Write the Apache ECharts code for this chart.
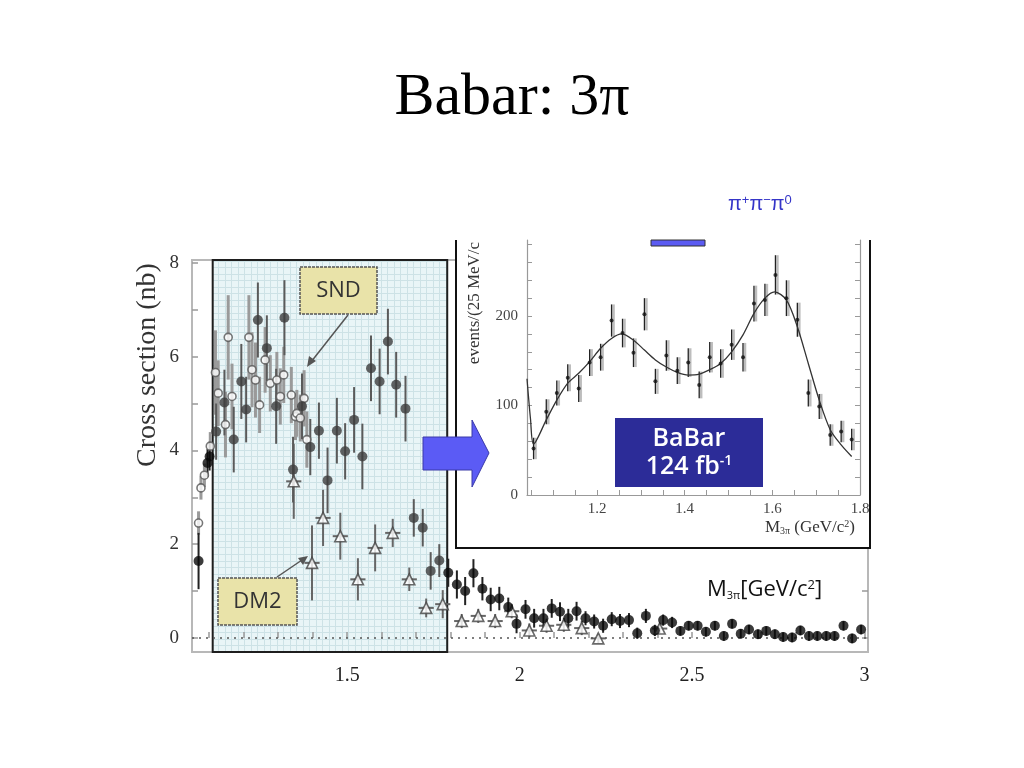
<!DOCTYPE html>
<html><head><meta charset="utf-8">
<script src="https://cdn.jsdelivr.net/npm/echarts@6/dist/echarts.min.js"></script>
<style>html,body{margin:0;padding:0;background:#fff}#c{width:1024px;height:768px}</style>
</head><body><div id="c"></div>
<script>
// ---------- main plot data (cross section, nb vs M3pi GeV) ----------
const sndX   = [1.069,1.076,1.086,1.103,1.118,1.126,1.147,1.155,1.166,1.215,1.224,1.234,1.246,1.262,1.277,1.296,1.306,1.316,1.338,1.350,1.354,1.364,1.375,1.383];
const sndY   = [2.45,3.20,3.47,4.09,5.66,5.22,4.55,6.41,5.15,6.41,5.72,5.50,4.97,5.93,5.43,5.50,5.15,5.61,5.18,4.72,4.79,4.69,5.11,4.23];
const sndErr = [0.25,0.25,0.25,0.3,0.9,0.7,0.7,0.9,0.7,0.9,0.8,0.8,0.6,0.7,0.6,0.6,0.6,0.6,0.6,0.5,0.5,0.5,0.6,0.6];

const babarX = [1.069,1.095,1.101,1.120,1.144,1.171,1.193,1.207,1.241,1.267,1.294,1.318,1.343,1.369,1.393,1.418,1.443,1.470,1.494,1.520,1.544,1.569,1.594,1.618,1.642,1.669,1.693,1.719,1.742,1.767,1.793,1.818,1.842,1.866,1.892,1.916,1.941,1.967,1.991,2.017,2.042,2.069,2.093,2.117,2.141,2.165,2.191,2.216,2.242,2.267,2.291,2.317,2.341,2.366,2.392,2.416,2.442,2.466,2.490,2.516,2.540,2.566,2.592,2.616,2.641,2.665,2.691,2.715,2.740,2.764,2.790,2.814,2.839,2.863,2.889,2.913,2.939,2.964,2.990];
const babarY = [1.64,3.73,3.87,4.40,5.02,4.23,5.47,4.87,6.78,6.18,4.94,6.83,3.59,4.94,4.07,4.42,3.36,4.42,3.98,4.65,3.87,5.75,5.47,6.32,5.40,4.89,2.56,2.35,1.43,1.65,1.39,1.14,1.00,1.38,1.05,0.82,0.84,0.66,0.30,0.61,0.42,0.42,0.63,0.56,0.42,0.57,0.42,0.35,0.26,0.40,0.36,0.38,0.10,0.47,0.16,0.38,0.33,0.15,0.26,0.26,0.13,0.26,0.04,0.30,0.09,0.18,0.08,0.15,0.08,0.02,0.01,0.16,0.04,0.04,0.04,0.04,0.26,-0.01,0.18];
const babarErr = [0.6,0.3,0.3,0.6,0.7,0.7,0.8,0.7,0.8,0.7,0.8,0.8,0.7,0.7,0.6,0.6,0.7,0.7,0.6,0.7,0.7,0.7,0.7,0.7,0.7,0.7,0.4,0.4,0.4,0.35,0.3,0.3,0.3,0.3,0.25,0.25,0.25,0.2,0.2,0.2,0.2,0.2,0.2,0.2,0.2,0.2,0.15,0.15,0.15,0.15,0.15,0.15,0.12,0.15,0.12,0.12,0.12,0.1,0.1,0.1,0.1,0.1,0.1,0.1,0.1,0.1,0.1,0.1,0.1,0.1,0.1,0.1,0.1,0.1,0.1,0.1,0.1,0.1,0.1];

const dm2X   = [1.345,1.398,1.430,1.480,1.531,1.581,1.632,1.680,1.729,1.777,1.832,1.880,1.929,1.977,2.028,2.078,2.128,2.180,2.228,2.406];
const dm2Y   = [3.34,1.60,2.56,2.17,1.25,1.92,2.24,1.25,0.64,0.72,0.36,0.47,0.36,0.57,0.16,0.26,0.28,0.21,-0.01,0.20];
const dm2Err = [0.8,0.8,0.6,0.5,0.45,0.5,0.3,0.25,0.2,0.3,0.15,0.15,0.15,0.15,0.15,0.15,0.15,0.15,0.1,0.1];

const xTicks = [1.1,1.2,1.3,1.4,1.5,1.6,1.7,1.8,1.9,2.0,2.1,2.2,2.3,2.4,2.5,2.6,2.7,2.8,2.9,3.0];
const xLabels = [1.5,2,2.5,3];
const yTicks = [0,1,2,3,4,5,6,7,8];
const yLabels = [0,2,4,6,8];
const boxRange = [1.11, 1.79];

// ---------- inset data (events / 25 MeV) ----------
const insetX = [1.055,1.084,1.108,1.133,1.158,1.183,1.208,1.233,1.258,1.283,1.308,1.333,1.358,1.383,1.408,1.433,1.457,1.482,1.507,1.533,1.558,1.583,1.607,1.632,1.657,1.682,1.707,1.732,1.757,1.781];
const insetY = [52,93,114,131,119,148,154,195,181,159,202,127,156,139,148,123,154,147,168,154,214,218,246,220,196,114,99,67,71,62];
const insetErr = [12,14,14,15,15,15,15,18,16,16,18,14,17,15,16,15,17,16,17,16,20,18,22,20,19,15,14,12,12,12];
const curveX = [1.040,1.048,1.055,1.084,1.108,1.133,1.158,1.183,1.208,1.233,1.256,1.283,1.308,1.333,1.358,1.383,1.408,1.433,1.457,1.482,1.507,1.533,1.558,1.583,1.605,1.632,1.657,1.682,1.707,1.732,1.757,1.781];
const curveY = [130,85,57,84,106,125,136,149,164,175,180,173,162,151,143,137,134,135,140,147,160,179,203,220,227,218,188,147,106,73,56,43];
const insetXTicks = [1.05,1.1,1.15,1.2,1.25,1.3,1.35,1.4,1.45,1.5,1.55,1.6,1.65,1.7,1.75,1.8];
const insetXLabels = [1.2,1.4,1.6,1.8];
const insetYTicks = [0,20,40,60,80,100,120,140,160,180,200,220,240,260,280];
const insetYLabels = [0,100,200];

// ---------- helpers ----------
function errSeries(xs, ys, es, xi, yi, opts) {
  return {
    type: 'custom', xAxisIndex: xi, yAxisIndex: yi, z: opts.z || 2, silent: true,
    data: xs.map((x, i) => [x, ys[i], es[i]]),
    renderItem(params, api) {
      const x = api.value(0), y = api.value(1), e = api.value(2);
      const a = api.coord([x, y - e]), b = api.coord([x, y + e]);
      const col = typeof opts.color === 'function' ? opts.color(x) : opts.color;
      const dx = opts.dx || 0;
      const ch = [{ type: 'line', shape: { x1: a[0] + dx, y1: a[1], x2: b[0] + dx, y2: b[1] }, style: { stroke: col, lineWidth: opts.width } }];
      if (opts.hx) {
        const c = api.coord([x - opts.hx, y]), d = api.coord([x + opts.hx, y]);
        ch.push({ type: 'line', shape: { x1: c[0], y1: c[1], x2: d[0], y2: d[1] }, style: { stroke: col, lineWidth: opts.width } });
      }
      return { type: 'group', children: ch };
    }
  };
}
const inBox = x => x >= boxRange[0] && x <= boxRange[1];
const serif = 'Liberation Serif';
const sans = 'Open Sans';

const chart = echarts.init(document.getElementById('c'));
const option = {
  animation: false,
  backgroundColor: '#fff',
  grid: [
    { left: 192, right: 156, top: 260, bottom: 116, show: true, borderColor: '#b8b8b8', borderWidth: 2, backgroundColor: 'transparent' },
    { left: 527, right: 164, top: 240, bottom: 273, z: 10 },
    { left: 212, right: 578, top: 261, bottom: 116, show: true, backgroundColor: '#e9f5f7', borderWidth: 0 }
  ],
  xAxis: [
    { gridIndex: 0, type: 'value', min: 1.05, max: 3.01, splitLine: { show: false },
      axisLine: { show: false },
      axisTick: { show: true, inside: true, length: 6, customValues: xTicks, lineStyle: { color: '#999', width: 1.5 } },
      axisLabel: { customValues: xLabels, margin: 14, fontFamily: serif, fontSize: 20, color: '#222' } },
    { gridIndex: 1, type: 'value', min: 1.04, max: 1.8, z: 10, splitLine: { show: false },
      axisLine: { show: true, lineStyle: { color: '#999', width: 1.2 } },
      axisTick: { show: true, inside: true, length: 5, customValues: insetXTicks, lineStyle: { color: '#999' } },
      axisLabel: { customValues: insetXLabels, margin: 7, fontFamily: serif, fontSize: 15, color: '#444' } },
    { gridIndex: 2, type: 'value', min: 0, max: 36, interval: 1, axisLine: { show: false }, axisTick: { show: false }, axisLabel: { show: false },
      splitLine: { show: true, lineStyle: { color: '#cde2e6', width: 1 } } }
  ],
  yAxis: [
    { gridIndex: 0, type: 'value', min: -0.3, max: 8.06, splitLine: { show: false }, axisLine: { show: false },
      axisTick: { show: true, inside: true, length: 6, customValues: yTicks, lineStyle: { color: '#999', width: 1.5 } },
      axisLabel: { customValues: yLabels, margin: 13, fontFamily: serif, fontSize: 19, color: '#333' } },
    { gridIndex: 0, type: 'value', position: 'right', min: -0.3, max: 8.06, splitLine: { show: false }, axisLine: { show: false },
      axisTick: { show: true, inside: true, length: 6, customValues: yTicks, lineStyle: { color: '#999', width: 1.5 } },
      axisLabel: { show: false } },
    { gridIndex: 1, type: 'value', min: 0, max: 285, z: 10, splitLine: { show: false },
      axisLine: { show: true, lineStyle: { color: '#999', width: 1.2 } },
      axisTick: { show: true, inside: true, length: 5, customValues: insetYTicks, lineStyle: { color: '#999' } },
      axisLabel: { customValues: insetYLabels, margin: 9, fontFamily: serif, fontSize: 15, color: '#444' } },
    { gridIndex: 1, type: 'value', position: 'right', min: 0, max: 285, z: 10, splitLine: { show: false },
      axisLine: { show: true, lineStyle: { color: '#999', width: 1.2 } },
      axisTick: { show: true, inside: true, length: 5, customValues: insetYTicks, lineStyle: { color: '#999' } },
      axisLabel: { show: false } },
    { gridIndex: 2, type: 'value', min: 0, max: 60, interval: 1, axisLine: { show: false }, axisTick: { show: false }, axisLabel: { show: false },
      splitLine: { show: true, lineStyle: { color: '#cde2e6', width: 1 } } }
  ],
  series: [
    // zero line + highlighted box outline
    { type: 'line', xAxisIndex: 0, yAxisIndex: 0, data: [], z: 3,
      markLine: { silent: true, symbol: 'none', label: { show: false },
        lineStyle: { type: [2, 5], color: '#555', width: 1.5 }, data: [{ yAxis: 0 }] },
      markArea: { silent: true, label: { show: false },
        itemStyle: { color: 'rgba(0,0,0,0)', borderColor: '#1e1e1e', borderWidth: 2 },
        data: [[{ xAxis: boxRange[0], yAxis: -0.3 }, { xAxis: boxRange[1], yAxis: 8.06 }]] } },
    errSeries(sndX, sndY, sndErr, 0, 0, { color: '#9a9a9a', width: 3, z: 3 }),
    errSeries(dm2X, dm2Y, dm2Err, 0, 0, { color: '#666', width: 2, hx: 0.022, z: 3 }),
    errSeries(babarX, babarY, babarErr, 0, 0, { color: x => inBox(x) ? '#5a5a5a' : '#222', width: 2, z: 4 }),
    { type: 'scatter', xAxisIndex: 0, yAxisIndex: 0, z: 5, symbol: 'circle', symbolSize: 8,
      data: sndX.map((x, i) => [x, sndY[i]]),
      itemStyle: { color: '#fff', borderColor: '#555', borderWidth: 1.6 } },
    { type: 'scatter', xAxisIndex: 0, yAxisIndex: 0, z: 5, symbol: 'triangle', symbolSize: 11,
      data: dm2X.map((x, i) => [x, dm2Y[i]]),
      itemStyle: { color: '#fff', borderColor: '#444', borderWidth: 1.6 } },
    { type: 'scatter', xAxisIndex: 0, yAxisIndex: 0, z: 6, symbol: 'circle', symbolSize: 10,
      data: babarX.map((x, i) => [x, babarY[i]]),
      itemStyle: { color: p => inBox(p.value[0]) ? '#3c3c3c' : '#0a0a0a' } },
    // inset
    errSeries(insetX, insetY, insetErr, 1, 2, { color: '#bdbdbd', width: 2.5, dx: 2, z: 11 }),
    errSeries(insetX, insetY, insetErr, 1, 2, { color: '#222', width: 1.3, z: 12 }),
    { type: 'line', xAxisIndex: 1, yAxisIndex: 2, z: 13, smooth: 0.3, symbol: 'none',
      data: curveX.map((x, i) => [x, curveY[i]]), lineStyle: { color: '#333', width: 1.3 } },
    { type: 'scatter', xAxisIndex: 1, yAxisIndex: 2, z: 14, symbolSize: 4,
      data: insetX.map((x, i) => [x, insetY[i]]), itemStyle: { color: '#111' } }
  ],
  graphic: [
    { type: 'text', x: 512, y: 98, z: 30, style: { text: 'Babar: 3π', font: '60px "Liberation Serif"', fill: '#000', align: 'center', verticalAlign: 'middle' } },
    { type: 'text', x: 728, y: 204, z: 30, style: { text: '{a|π}{s|+}{a|π}{s|−}{a|π}{s|0}', fill: '#3535c8', align: 'left', verticalAlign: 'middle',
        rich: { a: { fontSize: 20, fontFamily: 'Liberation Sans', fill: '#3535c8' }, s: { fontSize: 13, fontFamily: 'Liberation Sans', fill: '#3535c8', verticalAlign: 'top' } } } },
    { type: 'text', x: 148, y: 365, rotation: Math.PI / 2, z: 30, style: { text: 'Cross section (nb)', font: '28px "Liberation Serif"', fill: '#333', align: 'center', verticalAlign: 'middle' } },
    // inset white panel
    { type: 'rect', z: 5, shape: { x: 456, y: 240, width: 414, height: 308 }, style: { fill: '#fff' } },
    { type: 'polyline', z: 9, shape: { points: [[456, 240], [456, 548], [870, 548], [870, 240]] }, style: { stroke: '#111', lineWidth: 2, fill: null } },
    { type: 'text', x: 475, y: 303, rotation: Math.PI / 2, z: 15, style: { text: 'events/(25 MeV/c', font: '17px "Liberation Serif"', fill: '#333', align: 'center', verticalAlign: 'middle' } },
    { type: 'text', x: 855, y: 528, z: 15, style: { text: '{a|M}{s|3π}{a| (GeV/c}{p|2}{a|)}', fill: '#333', align: 'right', verticalAlign: 'middle',
        rich: { a: { fontSize: 17, fontFamily: serif, fill: '#333' }, s: { fontSize: 10, fontFamily: serif, fill: '#333', verticalAlign: 'bottom' }, p: { fontSize: 10, fontFamily: serif, fill: '#333', verticalAlign: 'top' } } } },
    { type: 'rect', z: 16, shape: { x: 651, y: 240, width: 54, height: 6 }, style: { fill: '#5b5bf2', stroke: '#333', lineWidth: 1 } },
    { type: 'rect', z: 16, shape: { x: 615, y: 418, width: 148, height: 69 }, style: { fill: '#2c2c98' } },
    { type: 'text', x: 689, y: 439, z: 17, style: { text: 'BaBar', font: '600 25px "Open Sans"', fill: '#fff', align: 'center', verticalAlign: 'middle' } },
    { type: 'text', x: 689, y: 467, z: 17, style: { text: '{a|124 fb}{s|-1}', fill: '#fff', align: 'center', verticalAlign: 'middle',
        rich: { a: { fontSize: 25, fontWeight: 600, fontFamily: sans, fill: '#fff' }, s: { fontSize: 14, fontWeight: 600, fontFamily: sans, fill: '#fff', verticalAlign: 'top' } } } },
    // blue arrow
    { type: 'polygon', z: 18, shape: { points: [[423, 437], [472, 437], [472, 420], [489, 453], [472, 487], [472, 470], [423, 470]] }, style: { fill: '#5b5bf5', stroke: '#3a3aa8', lineWidth: 1 } },
    // main axis label
    { type: 'text', x: 707, y: 590, z: 20, style: { text: '{a|M}{s|3π}{a|[GeV/c}{p|2}{a|]}', fill: '#111', align: 'left', verticalAlign: 'middle',
        rich: { a: { fontSize: 22, fontFamily: sans, fill: '#111' }, s: { fontSize: 11, fontFamily: sans, fill: '#111', verticalAlign: 'bottom' }, p: { fontSize: 13, fontFamily: sans, fill: '#111', verticalAlign: 'top' } } } },
    // SND label + arrow
    { type: 'rect', z: 20, shape: { x: 300, y: 267, width: 77, height: 47 }, style: { fill: '#e9e3a9', stroke: '#555', lineWidth: 1.5, lineDash: [3, 1] } },
    { type: 'text', x: 338.5, y: 291, z: 21, style: { text: 'SND', font: '22px "Open Sans"', fill: '#333', align: 'center', verticalAlign: 'middle' } },
    { type: 'line', z: 20, shape: { x1: 348, y1: 315, x2: 311, y2: 362 }, style: { stroke: '#555', lineWidth: 1.5 } },
    { type: 'polygon', z: 20, shape: { points: [[307, 367], [309, 356], [316, 361]] }, style: { fill: '#555' } },
    // DM2 label + arrow
    { type: 'rect', z: 20, shape: { x: 218, y: 578, width: 79, height: 47 }, style: { fill: '#e9e3a9', stroke: '#555', lineWidth: 1.5, lineDash: [3, 1] } },
    { type: 'text', x: 257.5, y: 602, z: 21, style: { text: 'DM2', font: '22px "Open Sans"', fill: '#333', align: 'center', verticalAlign: 'middle' } },
    { type: 'line', z: 20, shape: { x1: 277, y1: 577, x2: 302, y2: 560 }, style: { stroke: '#555', lineWidth: 1.5 } },
    { type: 'polygon', z: 20, shape: { points: [[308, 556], [298, 558], [303, 565]] }, style: { fill: '#555' } }
  ]
};
chart.setOption(option);
</script>
</body></html>
